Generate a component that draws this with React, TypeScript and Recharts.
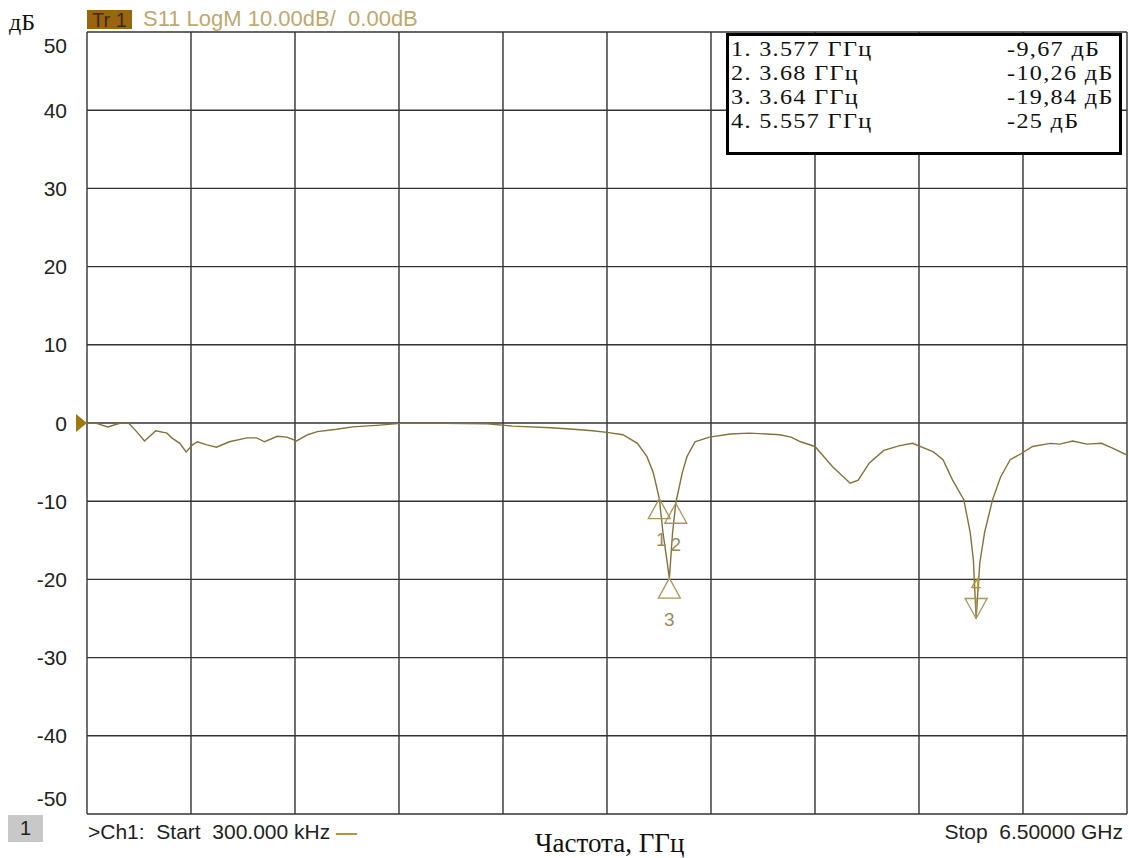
import React from "react";
import { ComposedChart, Line, Scatter, XAxis, YAxis, CartesianGrid, ReferenceDot, ReferenceLine } from "recharts";

// S11 trace, frequency in GHz, level in dB
const freqGHz = [
  0.0003, 0.06, 0.13, 0.21, 0.26, 0.31, 0.36, 0.43, 0.5, 0.53, 0.58, 0.62, 0.66, 0.69, 0.75, 0.81, 0.89, 1.0, 1.06, 1.11,
  1.19, 1.25, 1.31, 1.38, 1.44, 1.56, 1.66, 1.81, 1.96, 2.23, 2.5, 2.66, 2.9, 3.04, 3.16, 3.25, 3.35, 3.44, 3.5, 3.54,
  3.577, 3.6, 3.64, 3.66, 3.68, 3.72, 3.75, 3.8, 3.89, 4.02, 4.14, 4.33, 4.4, 4.46, 4.55, 4.66, 4.77, 4.82, 4.89, 4.98,
  5.08, 5.16, 5.29, 5.35, 5.41, 5.48, 5.52, 5.54, 5.557, 5.58, 5.61, 5.66, 5.71, 5.77, 5.84, 5.91, 6.02, 6.08, 6.16, 6.25,
  6.34, 6.41, 6.5,
];
const s11dB = [
  0, -0.05, -0.5, 0, 0, -1.1, -2.3, -1.0, -1.3, -1.9, -2.6, -3.7, -2.8, -2.4, -2.8, -3.1, -2.4, -1.9, -1.9, -2.4,
  -1.7, -1.8, -2.3, -1.5, -1.1, -0.8, -0.5, -0.3, -0.05, -0.05, -0.1, -0.4, -0.6, -0.8, -1.0, -1.2, -1.5, -2.6, -4.3, -6.4,
  -9.67, -14, -19.84, -14, -10.26, -6.4, -4.3, -2.4, -1.8, -1.4, -1.3, -1.5, -1.8, -2.4, -3.0, -5.6, -7.7, -7.3, -5.1, -3.5,
  -2.9, -2.6, -3.7, -4.7, -7.3, -9.8, -14, -17.5, -25, -17.9, -14, -9.8, -6.9, -4.7, -3.9, -3.0, -2.6, -2.7, -2.3, -2.7,
  -2.6, -3.2, -4.1,
];

// markers
const markerFreq = [3.577, 3.68, 3.64, 5.557];
const markerDb = [-9.67, -10.26, -19.84, -25];
const markerDown = [false, false, false, true];

const START_GHZ = 0.0003;
const STOP_GHZ = 6.5;
const xTicks = Array.from({ length: 11 }, (_, i) => START_GHZ + ((STOP_GHZ - START_GHZ) * i) / 10);
const yTicks = [-50, -40, -30, -20, -10, 0, 10, 20, 30, 40, 50];

const traceData = freqGHz.map((f, i) => ({ f, db: s11dB[i] }));
const markerData = markerFreq.map((f, i) => ({ f, db: markerDb[i], n: i + 1, down: markerDown[i] }));

const SANS = "'Liberation Sans', Arial, sans-serif";
const SERIF = "'Liberation Serif', 'Times New Roman', serif";
const TRACE = "#84723a";
const MARK = "#a8955a";
const GRID = "#333";

function YTick(props: any) {
  const { x, y, payload } = props;
  let dy = 0;
  if (payload.value === 50) dy = 13;
  if (payload.value === -50) dy = -16;
  return (
    <text x={x} y={y + dy} textAnchor="end" dominantBaseline="central" fontFamily={SANS} fontSize={21} fill="#222">
      {payload.value}
    </text>
  );
}

function MarkerShape(props: any) {
  const { cx, cy, payload } = props;
  const w = 11;
  const h = 20;
  if (payload.down) {
    return (
      <g>
        <path d={`M${cx},${cy} L${cx - w},${cy - h} L${cx + w},${cy - h} Z`} fill="none" stroke={MARK} strokeWidth={1.3} />
        <line x1={cx} y1={cy - h} x2={cx} y2={cy} stroke={MARK} strokeWidth={1.2} />
        <text x={cx} y={cy - 34} textAnchor="middle" dominantBaseline="central" fontFamily={SANS} fontSize={19} fill="#b09030">
          {payload.n}
        </text>
      </g>
    );
  }
  return (
    <g>
      <path d={`M${cx},${cy} L${cx - w},${cy + h} L${cx + w},${cy + h} Z`} fill="none" stroke={MARK} strokeWidth={1.3} />
      <text x={cx + (payload.n === 1 ? 2 : 0)} y={cy + 41} textAnchor="middle" dominantBaseline="central" fontFamily={SANS} fontSize={19} fill="#9d8c5a">
        {payload.n}
      </text>
    </g>
  );
}

function ZeroRef(props: any) {
  const { cx, cy } = props;
  return <path d={`M${cx},${cy} L${cx - 11},${cy - 9} L${cx - 11},${cy + 9} Z`} fill="#a07810" />;
}

const cellText: React.CSSProperties = {
  position: "absolute",
  top: 0,
  display: "inline-block",
  whiteSpace: "pre",
  transform: "scaleX(1.1)",
  transformOrigin: "left center",
};

export default function App() {
  return (
    <div style={{ position: "absolute", left: 0, top: 0, width: 1129, height: 858, background: "#fff", overflow: "hidden" }}>
      <ComposedChart width={1129} height={858} margin={{ top: 32, right: 2, bottom: 44, left: 0 }}>
        <CartesianGrid stroke={GRID} strokeWidth={1.4} vertical={false} />
        <XAxis
          type="number"
          dataKey="f"
          domain={[START_GHZ, STOP_GHZ]}
          ticks={xTicks}
          allowDataOverflow
          height={0}
          tick={false}
          tickLine={false}
          axisLine={false}
        />
        <YAxis
          type="number"
          domain={[-50, 50]}
          ticks={yTicks}
          allowDataOverflow
          width={87}
          tickSize={0}
          tickMargin={20}
          tickLine={false}
          axisLine={false}
          tick={<YTick />}
        />
        {xTicks.map((t) => (
          <ReferenceLine key={t} x={t} stroke={GRID} strokeWidth={1.4} ifOverflow="visible" />
        ))}
        <Line data={traceData} dataKey="db" type="linear" stroke={TRACE} strokeWidth={1.4} dot={false} isAnimationActive={false} />
        <Scatter data={markerData} dataKey="db" shape={<MarkerShape />} isAnimationActive={false} />
        <ReferenceDot x={START_GHZ} y={0} r={0} shape={<ZeroRef />} ifOverflow="visible" />
      </ComposedChart>

      {/* header */}
      <div style={{ position: "absolute", left: 9, top: 9, fontFamily: SERIF, fontSize: 24, color: "#111" }}>дБ</div>
      <div
        style={{
          position: "absolute",
          left: 87,
          top: 10,
          width: 45,
          height: 19,
          background: "#9a6410",
          fontFamily: SANS,
          fontSize: 20,
          lineHeight: "20px",
          color: "#3e2a08",
          textAlign: "center",
        }}
      >
        Tr 1
      </div>
      <div style={{ position: "absolute", left: 143, top: 7, fontFamily: SANS, fontSize: 22, lineHeight: "24px", color: "#c0a870", whiteSpace: "pre" }}>
        S11 LogM 10.00dB/  0.00dB
      </div>

      {/* marker table */}
      <div
        style={{
          position: "absolute",
          left: 726,
          top: 33,
          width: 396,
          height: 122,
          border: "3.5px solid #000",
          boxSizing: "border-box",
          background: "#fff",
        }}
      >
        {markerFreq.map((f, i) => (
          <div
            key={i}
            style={{
              position: "absolute",
              left: 2,
              top: 1 + i * 24,
              width: 386,
              height: 24,
              fontFamily: SERIF,
              fontSize: 22,
              lineHeight: "24px",
              color: "#111",
              letterSpacing: 1.2,
            }}
          >
            <span style={{ ...cellText, left: 0 }}>{`${i + 1}. ${f} ГГц`}</span>
            <span style={{ ...cellText, left: 276 }}>{`${String(markerDb[i]).replace(".", ",")} дБ`}</span>
          </div>
        ))}
      </div>

      {/* footer */}
      <div
        style={{
          position: "absolute",
          left: 8,
          top: 815,
          width: 35,
          height: 27,
          background: "#c8c8c8",
          fontFamily: SANS,
          fontSize: 20,
          lineHeight: "27px",
          textAlign: "center",
          color: "#222",
        }}
      >
        1
      </div>
      <div style={{ position: "absolute", left: 88, top: 820, fontFamily: SANS, fontSize: 21, lineHeight: "24px", color: "#222", whiteSpace: "pre" }}>
        {">Ch1:  Start  300.000 kHz "}
        <span style={{ color: "#b8962e", fontWeight: 700 }}>—</span>
      </div>
      <div style={{ position: "absolute", left: 535, top: 828, fontFamily: SERIF, fontSize: 27, lineHeight: "30px", color: "#111" }}>Частота, ГГц</div>
      <div style={{ position: "absolute", right: 6, top: 820, fontFamily: SANS, fontSize: 21, lineHeight: "24px", color: "#222", whiteSpace: "pre" }}>
        Stop  6.50000 GHz
      </div>
    </div>
  );
}
